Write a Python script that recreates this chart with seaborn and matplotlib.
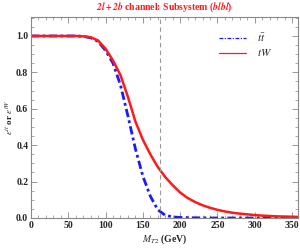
import numpy as np
import pandas as pd
import matplotlib
matplotlib.use("Agg")
import matplotlib.pyplot as plt
import seaborn as sns
from matplotlib.ticker import MultipleLocator

mt2 = [0, 10, 20, 30, 40, 50, 60, 70, 80, 90, 100, 110, 120, 130, 140, 150, 160, 170,
       180, 190, 200, 210, 220, 230, 240, 250, 260, 270, 280, 290, 300, 310, 320, 330, 340, 350, 358]
eff_tt = [1.0, 1.0, 1.0, 1.0, 1.0, 1.0, 1.0, 0.998, 0.99, 0.97, 0.92, 0.85, 0.73, 0.56, 0.38,
          0.23, 0.12, 0.045, 0.015, 0.006, 0.003, 0.002, 0.001, 0.001, 0.0, 0.0, 0.0, 0.0,
          0.0, 0.0, 0.0, 0.0, 0.0, 0.0, 0.0, 0.0, 0.0]
eff_tw = [1.0, 1.0, 1.0, 1.0, 1.0, 1.0, 1.0, 0.998, 0.993, 0.975, 0.93, 0.865, 0.785, 0.665,
          0.53, 0.43, 0.35, 0.28, 0.225, 0.18, 0.14, 0.11, 0.088, 0.07, 0.056, 0.045, 0.036,
          0.029, 0.024, 0.02, 0.016, 0.013, 0.011, 0.009, 0.008, 0.007, 0.006]
top_mass = 173

sns.set_style("ticks")
plt.rcParams['font.family'] = ['Liberation Serif', 'DejaVu Serif']
plt.rcParams['mathtext.fontset'] = 'stix'

fig = plt.figure(figsize=(3.0, 2.49), dpi=100)
ax = fig.add_axes([0.1033, 0.1245, 0.89, 0.807])

df_tt = pd.DataFrame({"x": mt2, "y": eff_tt})
df_tw = pd.DataFrame({"x": mt2, "y": eff_tw})

sns.lineplot(data=df_tt, x="x", y="y", ax=ax, color="#1a1aff", lw=2.0,
             linestyle=(0, (3, 1.2, 1, 1.2)), label=r"$t\bar{t}$")
sns.lineplot(data=df_tw, x="x", y="y", ax=ax, color="#ff1a1a", lw=1.8,
             label=r"$tW$")
ax.axvline(top_mass, color="#999999", lw=0.8, ls=(0, (4, 3)))

ax.set_xlim(0, 358)
ax.set_ylim(0, 1.104)
ax.set_xticks([0, 50, 100, 150, 200, 250, 300, 350])
ax.set_yticks([0.0, 0.2, 0.4, 0.6, 0.8, 1.0])
ax.set_yticklabels(["0.0", "0.2", "0.4", "0.6", "0.8", "1.0"])
ax.xaxis.set_minor_locator(MultipleLocator(10))
ax.yaxis.set_minor_locator(MultipleLocator(0.05))
ax.tick_params(which="both", direction="in", top=True, right=True, color="#888888",
               labelsize=7, pad=2)
ax.tick_params(which="major", length=4, width=0.6)
ax.tick_params(which="minor", length=2, width=0.5)
for lab in ax.get_xticklabels() + ax.get_yticklabels():
    lab.set_fontweight("bold")
for s in ax.spines.values():
    s.set_color("#888888")
    s.set_linewidth(0.8)

ax.set_xlabel(r"$M_{T2}$ (GeV)", fontsize=7, fontweight="bold", labelpad=2)
ax.set_ylabel(r"$\epsilon^{tt}$ or $\epsilon^{tW}$", fontsize=6.5, fontweight="bold", labelpad=1)
ax.set_title(r"$\mathbfit{2l+2b}$ channel: Subsystem ($\mathbfit{blbl}$)", color="#ff1a1a",
             fontsize=7, fontweight="bold", pad=5)

leg = ax.legend(loc="upper left", frameon=False, fontsize=8, handlelength=2.4,
                handletextpad=1.0, borderaxespad=0, borderpad=0, labelspacing=0.3,
                bbox_to_anchor=(0.704, 0.93))
for line in leg.get_lines():
    line.set_linewidth(0.9)

fig.savefig("out.png", dpi=100)
